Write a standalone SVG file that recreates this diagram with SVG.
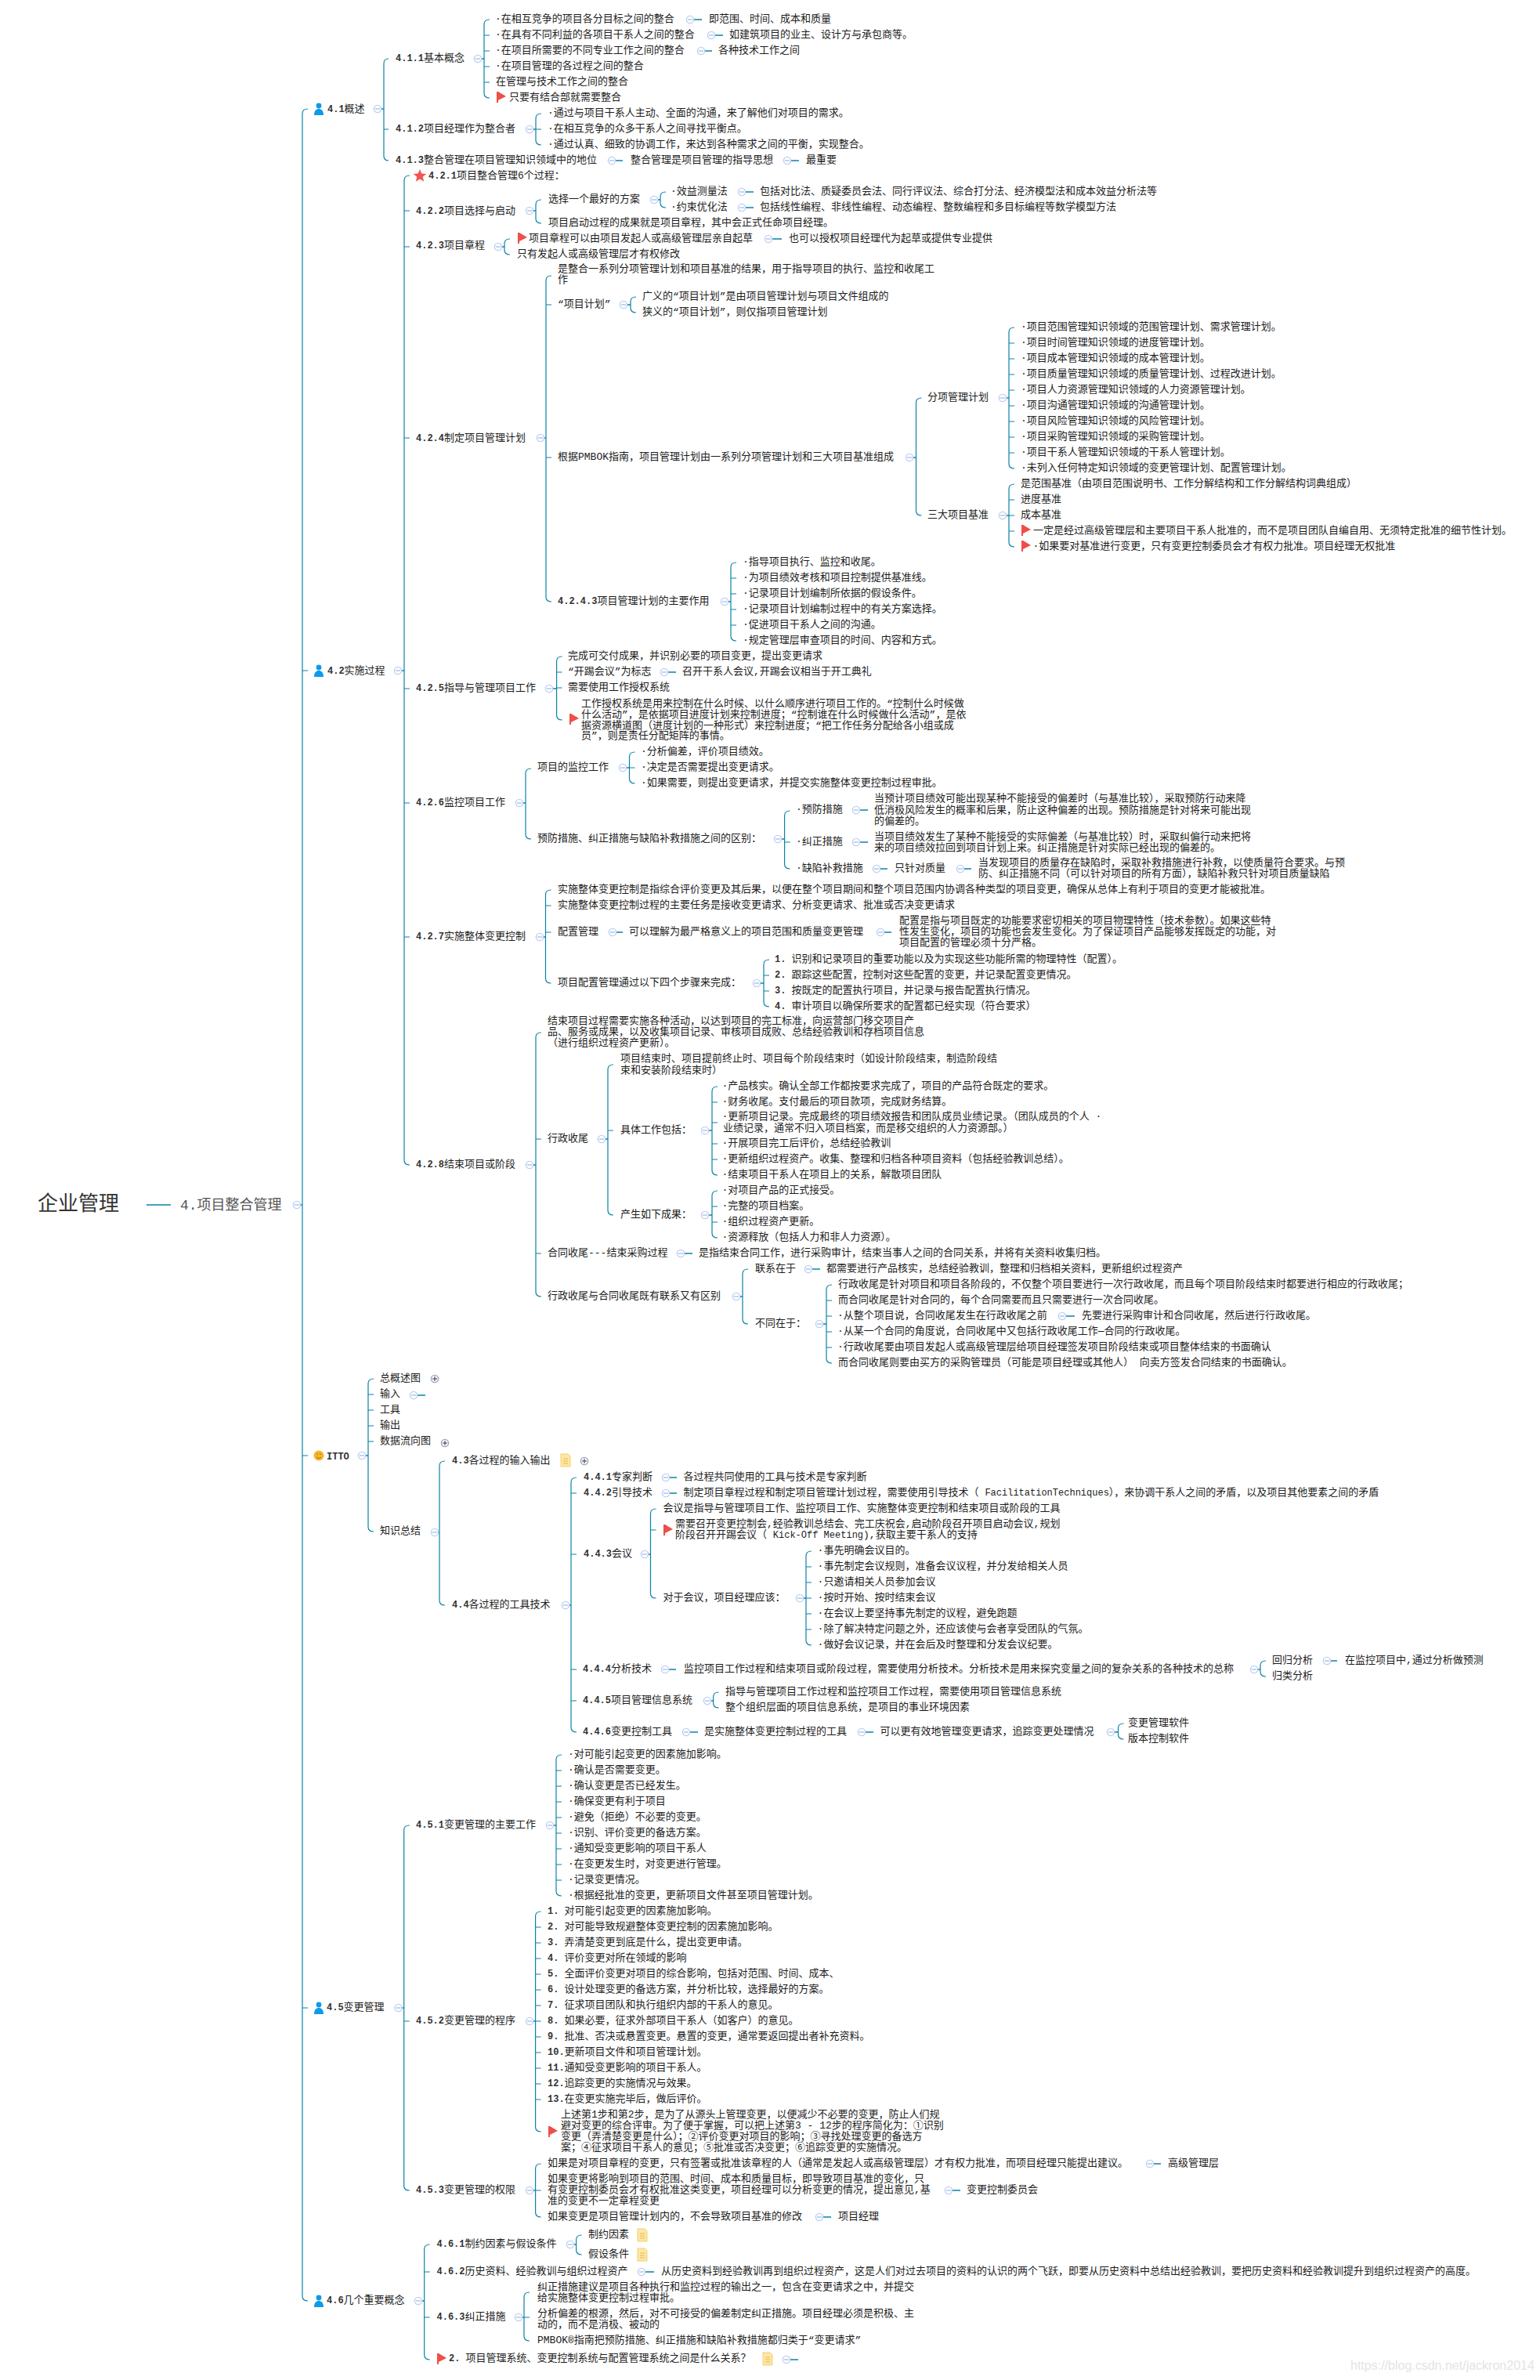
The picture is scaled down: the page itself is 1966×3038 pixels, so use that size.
<svg xmlns="http://www.w3.org/2000/svg" width="1966" height="3038" viewBox="0 0 1966 3038">
<style>
text{font-family:"Liberation Mono","Noto Sans CJK SC",monospace;font-size:13px;fill:#1c1c1c}
.n{font-size:12px;font-weight:bold;fill:#333}
.b{fill:none;stroke:#0b83a6;stroke-width:1.2}
.l{fill:none;stroke:#0b83a6;stroke-width:1.6}
</style>
<defs>
<g id="m"><circle r="4.6" fill="#fff" stroke="#bcd0f4" stroke-width="1.4"/><path d="M-3 0H3" stroke="#8fa8d8"/></g>
<g id="pl"><circle r="4.6" fill="#fff" stroke="#9aa3bd" stroke-width="1.4"/><path d="M-3 0H3M0-3V3" stroke="#334"/></g>
<g id="f"><path d="M0-7V7" stroke="#ee4f48" stroke-width="2"/><path d="M1-7 11-1 1 4Z" fill="#ee4f48"/></g>
<g id="p" fill="#0d9be8"><circle cy="-4" r="3.4"/><path d="M-6 8C-6 2-3 0 0 0S6 2 6 8Z"/></g>
<g id="d"><path d="M-6-8H3L6-5V8H-6Z" fill="#fbe7a8" stroke="#f4cf6c"/><path d="M-3-2H3M-3 1H3M-3 4H3" stroke="#eeb93e"/></g>
</defs>
<rect width="1966" height="3038" fill="#fff"/>
<g id="connectors">
<path class="b" d="M393 139q-7 0-7 6V2931q0 6 7 6M386 856h7M386 1858h7M386 2563h7"/>
<path class="b" d="M496 75q-6 0-6 6V199q0 6 6 6M490 165h6"/>
<path class="b" d="M625 25q-7 0-7 6V119q0 6 7 6M618 45h7M618 65h7M618 85h7M618 105h7"/>
<path class="b" d="M691 145q-7 0-7 6V179q0 6 7 6M684 165h7"/>
<path class="b" d="M523 224q-7 0-7 6V1481q0 6 7 6M516 269h7M516 315h7M516 559h7M516 879h7M516 1025h7M516 1196h7"/>
<path class="b" d="M691 255q-7 0-7 6V279q0 6 7 6"/>
<path class="b" d="M850 245q-7 0-7 6V259q0 6 7 6"/>
<path class="b" d="M651 305q-7 0-7 6V319q0 6 7 6"/>
<path class="b" d="M704 352q-7 0-7 6V762q0 6 7 6M697 389h7M697 584h7"/>
<path class="b" d="M812 379q-7 0-7 6V393q0 6 7 6"/>
<path class="b" d="M1176.500 508q-7 0-7 6V652q0 6 7 6"/>
<path class="b" d="M1295 418q-7 0-7 6V592q0 6 7 6M1288 438h7M1288 458h7M1288 478h7M1288 498h7M1288 518h7M1288 538h7M1288 558h7M1288 578h7"/>
<path class="b" d="M1295 618q-7 0-7 6V692q0 6 7 6M1288 638h7M1288 658h7M1288 678h7"/>
<path class="b" d="M940 718q-7 0-7 6V812q0 6 7 6M933 738h7M933 758h7M933 778h7M933 798h7"/>
<path class="b" d="M717.600 838q-7 0-7 6V913q0 6 7 6M710.600 858h7M710.600 878h7"/>
<path class="b" d="M678 981q-7 0-7 6V1065q0 6 7 6"/>
<path class="b" d="M810.500 960q-7 0-7 6V994q0 6 7 6M803.500 980h7"/>
<path class="b" d="M1008.600 1035q-7 0-7 6V1103q0 6 7 6M1001.600 1075h7"/>
<path class="b" d="M703.500 1136q-7 0-7 6V1249q0 6 7 6M696.500 1156h7M696.500 1190h7"/>
<path class="b" d="M982 1225q-7 0-7 6V1279q0 6 7 6M975 1245h7M975 1265h7"/>
<path class="b" d="M691 1318q-7 0-7 6V1649q0 6 7 6M684 1454h7M684 1600h7"/>
<path class="b" d="M783 1359q-7 0-7 6V1545q0 6 7 6M776 1443h7"/>
<path class="b" d="M916 1387q-7 0-7 6V1494q0 6 7 6M909 1407h7M909 1433h7M909 1460h7M909 1480h7"/>
<path class="b" d="M916 1520q-7 0-7 6V1574q0 6 7 6M909 1540h7M909 1560h7"/>
<path class="b" d="M955 1620q-7 0-7 6V1684q0 6 7 6"/>
<path class="b" d="M1062 1640q-7 0-7 6V1734q0 6 7 6M1055 1660h7M1055 1680h7M1055 1700h7M1055 1720h7"/>
<path class="b" d="M477 1760q-7 0-7 6V1949q0 6 7 6M470 1780h7M470 1800h7M470 1820h7M470 1840h7"/>
<path class="b" d="M568 1865q-7 0-7 6V2043q0 6 7 6"/>
<path class="b" d="M736 1886q-7 0-7 6V2205q0 6 7 6M729 1906h7M729 1984h7M729 2131h7M729 2171h7"/>
<path class="b" d="M837.500 1926q-7 0-7 6V2034q0 6 7 6M830.500 1953h7"/>
<path class="b" d="M1036 1980q-7 0-7 6V2094q0 6 7 6M1029 2000h7M1029 2020h7M1029 2040h7M1029 2060h7M1029 2080h7"/>
<path class="b" d="M1616 2120q-7 0-7 6V2134q0 6 7 6"/>
<path class="b" d="M917.600 2160q-7 0-7 6V2174q0 6 7 6"/>
<path class="b" d="M1434.500 2200q-7 0-7 6V2214q0 6 7 6"/>
<path class="b" d="M522.700 2330q-7 0-7 6V2790q0 6 7 6M515.700 2580h7"/>
<path class="b" d="M717 2240q-7 0-7 6V2414q0 6 7 6M710 2260h7M710 2280h7M710 2300h7M710 2320h7M710 2340h7M710 2360h7M710 2380h7M710 2400h7"/>
<path class="b" d="M690.600 2440q-7 0-7 6V2715q0 6 7 6M683.600 2460h7M683.600 2480h7M683.600 2500h7M683.600 2520h7M683.600 2540h7M683.600 2560h7M683.600 2580h7M683.600 2600h7M683.600 2620h7M683.600 2640h7M683.600 2660h7M683.600 2680h7"/>
<path class="b" d="M690.600 2762q-7 0-7 6V2824q0 6 7 6M683.600 2796h7"/>
<path class="b" d="M548.700 2865q-7 0-7 6V3006q0 6 7 6M541.700 2900h7M541.700 2958h7"/>
<path class="b" d="M742.600 2853q-7 0-7 6V2872q0 6 7 6"/>
<path class="b" d="M676 2926q-7 0-7 6V2982q0 6 7 6M669 2958h7"/>
<path class="l" d="M187 1538H218M379 1538H386M482 139H490M610 75H618M676 165H684M508 856H516M676 269H684M835 255H843M636 315H644M690 559H697M796 389H805M1161 584H1169M1280 508H1288M1280 658H1288M925 768H933M701 879H711M663 1025H671M795 980H803M993 1071H1002M689 1196H696M966 1255H975M676 1487H684M768 1454H776M900 1443H909M900 1551H909M940 1655H948M1046 1690H1055M462 1858H470M555 1956H561M722 2049H729M823 1984H830M1021 2040H1029M1601 2131H1609M903 2171H911M1418 2211H1428M508 2563H516M702 2330H710M676 2580H684M676 2796H684M534 2937H542M728 2865H736M662 2958H669"/>
<path class="l" d="M881 25H896M908 45H923M895 65H909M781 205H795M1005 205H1020M947 245H962M947 265H962M981 305H998M848 858H863M1093 1034H1108M1093 1075H1108M1119 1109H1133M1226 1109H1240M782 1190H795M1124 1190H1138M869 1600H884M1032 1620H1047M1356 1680H1372M528 1781H543M850 1886H864M850 1906H864M849 2131H863M876 2211H891M1100 2211H1115M1694 2120H1707M1468 2762H1482M1211 2796H1226M1046 2830H1061M819 2900H835M1004 3012H1019"/>
</g>
<g id="root"><text x="48" y="1545" style="font-size:26px;fill:#333">企业管理</text></g>
<g id="n4"><text x="230" y="1544" style="font-size:18px;fill:#555">4.项目整合管理</text><use href="#m" x="379" y="1538"/></g>

<g id="n41"><use href="#p" x="407" y="139"/><text x="418" y="143"><tspan class="n">4.1</tspan>概述</text><use href="#m" x="482" y="139"/></g>
<g id="n411"><text x="505" y="78"><tspan class="n">4.1.1</tspan>基本概念</text><use href="#m" x="610" y="75"/></g>
<g id="n411a"><text x="632" y="28">·在相互竞争的项目各分目标之间的整合</text><use href="#m" x="881" y="25"/><text x="905" y="28">即范围、时间、成本和质量</text></g>
<g id="n411b"><text x="632" y="48">·在具有不同利益的各项目干系人之间的整合</text><use href="#m" x="908" y="45"/><text x="931" y="48">如建筑项目的业主、设计方与承包商等。</text></g>
<g id="n411c"><text x="632" y="68">·在项目所需要的不同专业工作之间的整合</text><use href="#m" x="895" y="65"/><text x="917" y="68">各种技术工作之间</text></g>
<g id="n411d"><text x="632" y="88">·在项目管理的各过程之间的整合</text></g>
<g id="n411e"><text x="633" y="108">在管理与技术工作之间的整合</text></g>
<g id="n411f"><use href="#f" x="635" y="124"/><text x="650" y="128">只要有结合部就需要整合</text></g>
<g id="n412"><text x="505" y="168"><tspan class="n">4.1.2</tspan>项目经理作为整合者</text><use href="#m" x="676" y="165"/></g>
<g id="n412a"><text x="699" y="148">·通过与项目干系人主动、全面的沟通，来了解他们对项目的需求。</text></g>
<g id="n412b"><text x="699" y="168">·在相互竞争的众多干系人之间寻找平衡点。</text></g>
<g id="n412c"><text x="699" y="188">·通过认真、细致的协调工作，来达到各种需求之间的平衡，实现整合。</text></g>
<g id="n413"><text x="505" y="208"><tspan class="n">4.1.3</tspan>整合管理在项目管理知识领域中的地位</text><use href="#m" x="781" y="205"/><text x="805" y="208">整合管理是项目管理的指导思想</text><use href="#m" x="1005" y="205"/><text x="1029" y="208">最重要</text></g>

<g id="n42"><use href="#p" x="407" y="856"/><text x="418" y="860"><tspan class="n">4.2</tspan>实施过程</text><use href="#m" x="508" y="856"/></g>
<g id="n421"><path d="M536 216l2.300 5.600 6 .4-4.600 3.800 1.500 5.900-5.200-3.200-5.200 3.200 1.500-5.900-4.600-3.800 6-.4z" fill="#f2574e"/><text x="547" y="228"><tspan class="n">4.2.1</tspan>项目整合管理6个过程：</text></g>
<g id="n422"><text x="531" y="273"><tspan class="n">4.2.2</tspan>项目选择与启动</text><use href="#m" x="676" y="269"/></g>
<g id="n422a"><text x="700" y="258">选择一个最好的方案</text><use href="#m" x="835" y="255"/></g>
<g id="n422a1"><text x="856" y="248">·效益测量法</text><use href="#m" x="947" y="245"/><text x="970" y="248">包括对比法、质疑委员会法、同行评议法、综合打分法、经济模型法和成本效益分析法等</text></g>
<g id="n422a2"><text x="856" y="268">·约束优化法</text><use href="#m" x="947" y="265"/><text x="970" y="268">包括线性编程、非线性编程、动态编程、整数编程和多目标编程等数学模型方法</text></g>
<g id="n422b"><text x="700" y="288">项目启动过程的成果就是项目章程，其中会正式任命项目经理。</text></g>
<g id="n423"><text x="531" y="317"><tspan class="n">4.2.3</tspan>项目章程</text><use href="#m" x="636" y="315"/></g>
<g id="n423a"><use href="#f" x="662" y="304"/><text x="675" y="308">项目章程可以由项目发起人或高级管理层亲自起草</text><use href="#m" x="981" y="305"/><text x="1007" y="308">也可以授权项目经理代为起草或提供专业提供</text></g>
<g id="n423b"><text x="660" y="328">只有发起人或高级管理层才有权修改</text></g>
<g id="n424"><text x="531" y="563"><tspan class="n">4.2.4</tspan>制定项目管理计划</text><use href="#m" x="690" y="559"/></g>
<g id="n424a"><text x="712" y="347">是整合一系列分项管理计划和项目基准的结果，用于指导项目的执行、监控和收尾工</text><text x="712" y="361">作</text></g>
<g id="n424b"><text x="712" y="392">“项目计划”</text><use href="#m" x="796" y="389"/></g>
<g id="n424b1"><text x="820" y="382">广义的“项目计划”是由项目管理计划与项目文件组成的</text></g>
<g id="n424b2"><text x="820" y="402">狭义的“项目计划”，则仅指项目管理计划</text></g>
<g id="n424c"><text x="712" y="587">根据PMBOK指南，项目管理计划由一系列分项管理计划和三大项目基准组成</text><use href="#m" x="1161" y="584"/></g>
<g id="n424c1"><text x="1184" y="511">分项管理计划</text><use href="#m" x="1280" y="508"/></g>
<g id="n424c1a"><text x="1303" y="421">·项目范围管理知识领域的范围管理计划、需求管理计划。</text></g>
<g id="n424c1b"><text x="1303" y="441">·项目时间管理知识领域的进度管理计划。</text></g>
<g id="n424c1c"><text x="1303" y="461">·项目成本管理知识领域的成本管理计划。</text></g>
<g id="n424c1d"><text x="1303" y="481">·项目质量管理知识领域的质量管理计划、过程改进计划。</text></g>
<g id="n424c1e"><text x="1303" y="501">·项目人力资源管理知识领域的人力资源管理计划。</text></g>
<g id="n424c1f"><text x="1303" y="521">·项目沟通管理知识领域的沟通管理计划。</text></g>
<g id="n424c1g"><text x="1303" y="541">·项目风险管理知识领域的风险管理计划。</text></g>
<g id="n424c1h"><text x="1303" y="561">·项目采购管理知识领域的采购管理计划。</text></g>
<g id="n424c1i"><text x="1303" y="581">·项目干系人管理知识领域的干系人管理计划。</text></g>
<g id="n424c1j"><text x="1303" y="601">·未列入任何特定知识领域的变更管理计划、配置管理计划。</text></g>
<g id="n424c2"><text x="1184" y="661">三大项目基准</text><use href="#m" x="1280" y="658"/></g>
<g id="n424c2a"><text x="1303" y="621">是范围基准（由项目范围说明书、工作分解结构和工作分解结构词典组成）</text></g>
<g id="n424c2b"><text x="1303" y="641">进度基准</text></g>
<g id="n424c2c"><text x="1303" y="661">成本基准</text></g>
<g id="n424c2d"><use href="#f" x="1305" y="677"/><text x="1319" y="681">一定是经过高级管理层和主要项目干系人批准的，而不是项目团队自编自用、无须特定批准的细节性计划。</text></g>
<g id="n424c2e"><use href="#f" x="1305" y="697"/><text x="1318.500" y="701">·如果要对基准进行变更，只有变更控制委员会才有权力批准。项目经理无权批准</text></g>
<g id="n4243"><text x="712" y="771"><tspan class="n">4.2.4.3</tspan>项目管理计划的主要作用</text><use href="#m" x="925" y="768"/></g>
<g id="n4243a"><text x="948" y="721">·指导项目执行、监控和收尾。</text></g>
<g id="n4243b"><text x="948" y="741">·为项目绩效考核和项目控制提供基准线。</text></g>
<g id="n4243c"><text x="948" y="761">·记录项目计划编制所依据的假设条件。</text></g>
<g id="n4243d"><text x="948" y="781">·记录项目计划编制过程中的有关方案选择。</text></g>
<g id="n4243e"><text x="948" y="801">·促进项目干系人之间的沟通。</text></g>
<g id="n4243f"><text x="948" y="821">·规定管理层审查项目的时间、内容和方式。</text></g>
<g id="n425"><text x="531" y="882"><tspan class="n">4.2.5</tspan>指导与管理项目工作</text><use href="#m" x="701" y="879"/></g>
<g id="n425a"><text x="725" y="841">完成可交付成果，并识别必要的项目变更，提出变更请求</text></g>
<g id="n425b"><text x="725" y="861">“开踢会议”为标志</text><use href="#m" x="848" y="858"/><text x="871" y="861">召开干系人会议,开踢会议相当于开工典礼</text></g>
<g id="n425c"><text x="725" y="881">需要使用工作授权系统</text></g>
<g id="n425d"><use href="#f" x="728" y="918"/><text x="742" y="902">工作授权系统是用来控制在什么时候、以什么顺序进行项目工作的。“控制什么时候做</text><text x="742" y="916">什么活动”，是依据项目进度计划来控制进度；“控制谁在什么时候做什么活动”，是依</text><text x="742" y="930">据资源横道图（进度计划的一种形式）来控制进度；“把工作任务分配给各小组或成</text><text x="742" y="943">员”，则是责任分配矩阵的事情。</text></g>
<g id="n426"><text x="531" y="1028"><tspan class="n">4.2.6</tspan>监控项目工作</text><use href="#m" x="663" y="1025"/></g>
<g id="n426a"><text x="686" y="983">项目的监控工作</text><use href="#m" x="795" y="980"/></g>
<g id="n426a1"><text x="818" y="963">·分析偏差，评价项目绩效。</text></g>
<g id="n426a2"><text x="818" y="983">·决定是否需要提出变更请求。</text></g>
<g id="n426a3"><text x="818" y="1003">·如果需要，则提出变更请求，并提交实施整体变更控制过程审批。</text></g>
<g id="n426b"><text x="686" y="1074">预防措施、纠正措施与缺陷补救措施之间的区别：</text><use href="#m" x="993" y="1071"/></g>
<g id="n426b1"><text x="1016" y="1037">·预防措施</text><use href="#m" x="1093" y="1034"/><text x="1116" y="1023">当预计项目绩效可能出现某种不能接受的偏差时（与基准比较），采取预防行动来降</text><text x="1116" y="1038">低消极风险发生的概率和后果，防止这种偏差的出现。预防措施是针对将来可能出现</text><text x="1116" y="1052">的偏差的。</text></g>
<g id="n426b2"><text x="1016" y="1078">·纠正措施</text><use href="#m" x="1093" y="1075"/><text x="1116" y="1072">当项目绩效发生了某种不能接受的实际偏差（与基准比较）时，采取纠偏行动来把将</text><text x="1116" y="1086">来的项目绩效拉回到项目计划上来。纠正措施是针对实际已经出现的偏差的。</text></g>
<g id="n426b3"><text x="1016" y="1112">·缺陷补救措施</text><use href="#m" x="1119" y="1109"/><text x="1142" y="1112">只针对质量</text><use href="#m" x="1226" y="1109"/><text x="1249" y="1105">当发现项目的质量存在缺陷时，采取补救措施进行补救，以使质量符合要求。与预</text><text x="1249" y="1119">防、纠正措施不同（可以针对项目的所有方面），缺陷补救只针对项目质量缺陷</text></g>
<g id="n427"><text x="531" y="1199"><tspan class="n">4.2.7</tspan>实施整体变更控制</text><use href="#m" x="689" y="1196"/></g>
<g id="n427a"><text x="712" y="1139">实施整体变更控制是指综合评价变更及其后果，以便在整个项目期间和整个项目范围内协调各种类型的项目变更，确保从总体上有利于项目的变更才能被批准。</text></g>
<g id="n427b"><text x="712" y="1159">实施整体变更控制过程的主要任务是接收变更请求、分析变更请求、批准或否决变更请求</text></g>
<g id="n427c"><text x="712" y="1193">配置管理</text><use href="#m" x="782" y="1190"/><text x="803" y="1193">可以理解为最严格意义上的项目范围和质量变更管理</text><use href="#m" x="1124" y="1190"/><text x="1148" y="1179">配置是指与项目既定的功能要求密切相关的项目物理特性（技术参数）。如果这些特</text><text x="1148" y="1193">性发生变化，项目的功能也会发生变化。为了保证项目产品能够发挥既定的功能，对</text><text x="1148" y="1207">项目配置的管理必须十分严格。</text></g>
<g id="n427d"><text x="712" y="1258">项目配置管理通过以下四个步骤来完成：</text><use href="#m" x="966" y="1255"/></g>
<g id="n427d1"><text x="989" y="1228"><tspan class="n">1. </tspan>识别和记录项目的重要功能以及为实现这些功能所需的物理特性（配置）。</text></g>
<g id="n427d2"><text x="989" y="1248"><tspan class="n">2. </tspan>跟踪这些配置，控制对这些配置的变更，并记录配置变更情况。</text></g>
<g id="n427d3"><text x="989" y="1268"><tspan class="n">3. </tspan>按既定的配置执行项目，并记录与报告配置执行情况。</text></g>
<g id="n427d4"><text x="989" y="1288"><tspan class="n">4. </tspan>审计项目以确保所要求的配置都已经实现（符合要求）</text></g>
<g id="n428"><text x="531" y="1490"><tspan class="n">4.2.8</tspan>结束项目或阶段</text><use href="#m" x="676" y="1487"/></g>
<g id="n428a"><text x="699" y="1307">结束项目过程需要实施各种活动，以达到项目的完工标准，向运营部门移交项目产</text><text x="699" y="1321">品、服务或成果，以及收集项目记录、审核项目成败、总结经验教训和存档项目信息</text><text x="699" y="1335">（进行组织过程资产更新）。</text></g>
<g id="n428b"><text x="699" y="1457">行政收尾</text><use href="#m" x="768" y="1454"/></g>
<g id="n428b1"><text x="792" y="1355">项目结束时、项目提前终止时、项目每个阶段结束时（如设计阶段结束，制造阶段结</text><text x="792" y="1370">束和安装阶段结束时）</text></g>
<g id="n428b2"><text x="792" y="1446">具体工作包括：</text><use href="#m" x="900" y="1443"/></g>
<g id="n428b2a"><text x="921.500" y="1390">·产品核实。确认全部工作都按要求完成了，项目的产品符合既定的要求。</text></g>
<g id="n428b2b"><text x="921.500" y="1410">·财务收尾。支付最后的项目款项，完成财务结算。</text></g>
<g id="n428b2c"><text x="921.500" y="1429">·更新项目记录。完成最终的项目绩效报告和团队成员业绩记录。（团队成员的个人 ·</text><text x="923" y="1444">业绩记录，通常不归入项目档案，而是移交组织的人力资源部。）</text></g>
<g id="n428b2d"><text x="921.500" y="1463">·开展项目完工后评价，总结经验教训</text></g>
<g id="n428b2e"><text x="921.500" y="1483">·更新组织过程资产。收集、整理和归档各种项目资料（包括经验教训总结）。</text></g>
<g id="n428b2f"><text x="921.500" y="1503">·结束项目干系人在项目上的关系，解散项目团队</text></g>
<g id="n428b3"><text x="792" y="1554">产生如下成果：</text><use href="#m" x="900" y="1551"/></g>
<g id="n428b3a"><text x="921.500" y="1523">·对项目产品的正式接受。</text></g>
<g id="n428b3b"><text x="921.500" y="1543">·完整的项目档案。</text></g>
<g id="n428b3c"><text x="921.500" y="1563">·组织过程资产更新。</text></g>
<g id="n428b3d"><text x="921.500" y="1583">·资源释放（包括人力和非人力资源）。</text></g>
<g id="n428c"><text x="699" y="1603">合同收尾---结束采购过程</text><use href="#m" x="869" y="1600"/><text x="892" y="1603">是指结束合同工作，进行采购审计，结束当事人之间的合同关系，并将有关资料收集归档。</text></g>
<g id="n428d"><text x="699" y="1658">行政收尾与合同收尾既有联系又有区别</text><use href="#m" x="940" y="1655"/></g>
<g id="n428d1"><text x="964" y="1623">联系在于</text><use href="#m" x="1032" y="1620"/><text x="1055" y="1623">都需要进行产品核实，总结经验教训，整理和归档相关资料，更新组织过程资产</text></g>
<g id="n428d2"><text x="964" y="1693">不同在于：</text><use href="#m" x="1046" y="1690"/></g>
<g id="n428d2a"><text x="1070" y="1643">行政收尾是针对项目和项目各阶段的，不仅整个项目要进行一次行政收尾，而且每个项目阶段结束时都要进行相应的行政收尾；</text></g>
<g id="n428d2b"><text x="1070" y="1663">而合同收尾是针对合同的，每个合同需要而且只需要进行一次合同收尾。</text></g>
<g id="n428d2c"><text x="1069" y="1683">·从整个项目说，合同收尾发生在行政收尾之前</text><use href="#m" x="1356" y="1680"/><text x="1381" y="1683">先要进行采购审计和合同收尾，然后进行行政收尾。</text></g>
<g id="n428d2d"><text x="1069" y="1703">·从某一个合同的角度说，合同收尾中又包括行政收尾工作—合同的行政收尾。</text></g>
<g id="n428d2e"><text x="1069" y="1723">·行政收尾要由项目发起人或高级管理层给项目经理签发项目阶段结束或项目整体结束的书面确认</text></g>
<g id="n428d2f"><text x="1070" y="1743">而合同收尾则要由买方的采购管理员（可能是项目经理或其他人） 向卖方签发合同结束的书面确认。</text></g>

<g id="itto"><circle cx="407" cy="1858" r="6.500" fill="#f6b52f"/><path d="M404 1860q3 3 6 0" fill="none" stroke="#a86a00"/><circle cx="405" cy="1856" r=".8" fill="#a86a00"/><circle cx="409" cy="1856" r=".8" fill="#a86a00"/><text x="417" y="1863" class="n">ITTO</text><use href="#m" x="462" y="1858"/></g>
<g id="i1"><text x="485" y="1763">总概述图</text><use href="#pl" x="555" y="1760"/></g>
<g id="i2"><text x="485" y="1783">输入</text><use href="#m" x="528" y="1781"/></g>
<g id="i3"><text x="485" y="1803">工具</text></g>
<g id="i4"><text x="485" y="1823">输出</text></g>
<g id="i5"><text x="485" y="1843">数据流向图</text><use href="#pl" x="568" y="1842"/></g>
<g id="i6"><text x="485" y="1958">知识总结</text><use href="#m" x="555" y="1956"/></g>
<g id="n43"><text x="577" y="1868"><tspan class="n">4.3</tspan>各过程的输入输出</text><use href="#d" x="722" y="1864"/><use href="#pl" x="746" y="1865"/></g>
<g id="n44"><text x="577" y="2052"><tspan class="n">4.4</tspan>各过程的工具技术</text><use href="#m" x="722" y="2049"/></g>
<g id="n441"><text x="745" y="1889"><tspan class="n">4.4.1</tspan>专家判断</text><use href="#m" x="850" y="1886"/><text x="872.600" y="1889">各过程共同使用的工具与技术是专家判断</text></g>
<g id="n442"><text x="745" y="1909"><tspan class="n">4.4.2</tspan>引导技术</text><use href="#m" x="850" y="1906"/><text x="872.600" y="1909">制定项目章程过程和制定项目管理计划过程，需要使用引导技术（ <tspan style="font-size:12px">FacilitationTechniques</tspan>），来协调干系人之间的矛盾，以及项目其他要素之间的矛盾</text></g>
<g id="n443"><text x="745" y="1987"><tspan class="n">4.4.3</tspan>会议</text><use href="#m" x="823" y="1984"/></g>
<g id="n443a"><text x="846.600" y="1929">会议是指导与管理项目工作、监控项目工作、实施整体变更控制和结束项目或阶段的工具</text></g>
<g id="n443b"><use href="#f" x="848" y="1953"/><text x="862" y="1949">需要召开变更控制会,经验教训总结会、完工庆祝会,启动阶段召开项目启动会议,规划</text><text x="862" y="1963">阶段召开开踢会议（ <tspan style="font-size:12px">Kick-Off Meeting</tspan>),获取主要干系人的支持</text></g>
<g id="n443c"><text x="846.600" y="2043">对于会议，项目经理应该：</text><use href="#m" x="1021" y="2040"/></g>
<g id="n443c1"><text x="1043.600" y="1983">·事先明确会议目的。</text></g>
<g id="n443c2"><text x="1043.600" y="2003">·事先制定会议规则，准备会议议程，并分发给相关人员</text></g>
<g id="n443c3"><text x="1043.600" y="2023">·只邀请相关人员参加会议</text></g>
<g id="n443c4"><text x="1043.600" y="2043">·按时开始、按时结束会议</text></g>
<g id="n443c5"><text x="1043.600" y="2063">·在会议上要坚持事先制定的议程，避免跑题</text></g>
<g id="n443c6"><text x="1043.600" y="2083">·除了解决特定问题之外，还应该使与会者享受团队的气氛。</text></g>
<g id="n443c7"><text x="1043.600" y="2103">·做好会议记录，并在会后及时整理和分发会议纪要。</text></g>
<g id="n444"><text x="744" y="2134"><tspan class="n">4.4.4</tspan>分析技术</text><use href="#m" x="849" y="2131"/><text x="873" y="2134">监控项目工作过程和结束项目或阶段过程，需要使用分析技术。分析技术是用来探究变量之间的复杂关系的各种技术的总称</text><use href="#m" x="1601" y="2131"/></g>
<g id="n444a"><text x="1624" y="2123">回归分析</text><use href="#m" x="1694" y="2120"/><text x="1717" y="2123">在监控项目中,通过分析做预测</text></g>
<g id="n444b"><text x="1624" y="2143">归类分析</text></g>
<g id="n445"><text x="744" y="2174"><tspan class="n">4.4.5</tspan>项目管理信息系统</text><use href="#m" x="903" y="2171"/></g>
<g id="n445a"><text x="926" y="2163">指导与管理项目工作过程和监控项目工作过程，需要使用项目管理信息系统</text></g>
<g id="n445b"><text x="926" y="2183">整个组织层面的项目信息系统，是项目的事业环境因素</text></g>
<g id="n446"><text x="744" y="2214"><tspan class="n">4.4.6</tspan>变更控制工具</text><use href="#m" x="876" y="2211"/><text x="899" y="2214">是实施整体变更控制过程的工具</text><use href="#m" x="1100" y="2211"/><text x="1123.600" y="2214">可以更有效地管理变更请求，追踪变更处理情况</text><use href="#m" x="1418" y="2211"/></g>
<g id="n446a"><text x="1440" y="2203">变更管理软件</text></g>
<g id="n446b"><text x="1440" y="2223">版本控制软件</text></g>

<g id="n45"><use href="#p" x="407" y="2563"/><text x="417" y="2566"><tspan class="n">4.5</tspan>变更管理</text><use href="#m" x="508.600" y="2563"/></g>
<g id="n451"><text x="531" y="2333"><tspan class="n">4.5.1</tspan>变更管理的主要工作</text><use href="#m" x="702" y="2330"/></g>
<g id="n451a"><text x="725" y="2243">·对可能引起变更的因素施加影响。</text></g>
<g id="n451b"><text x="725" y="2263">·确认是否需要变更。</text></g>
<g id="n451c"><text x="725" y="2283">·确认变更是否已经发生。</text></g>
<g id="n451d"><text x="725" y="2303">·确保变更有利于项目</text></g>
<g id="n451e"><text x="725" y="2323">·避免（拒绝）不必要的变更。</text></g>
<g id="n451f"><text x="725" y="2343">·识别、评价变更的备选方案。</text></g>
<g id="n451g"><text x="725" y="2363">·通知受变更影响的项目干系人</text></g>
<g id="n451h"><text x="725" y="2383">·在变更发生时，对变更进行管理。</text></g>
<g id="n451i"><text x="725" y="2403">·记录变更情况。</text></g>
<g id="n451j"><text x="725" y="2423">·根据经批准的变更，更新项目文件甚至项目管理计划。</text></g>
<g id="n452"><text x="531" y="2583"><tspan class="n">4.5.2</tspan>变更管理的程序</text><use href="#m" x="676" y="2580"/></g>
<g id="n452-1"><text x="699" y="2443"><tspan class="n">1.  </tspan>对可能引起变更的因素施加影响。</text></g>
<g id="n452-2"><text x="699" y="2463"><tspan class="n">2.  </tspan>对可能导致规避整体变更控制的因素施加影响。</text></g>
<g id="n452-3"><text x="699" y="2483"><tspan class="n">3.  </tspan>弄清楚变更到底是什么，提出变更申请。</text></g>
<g id="n452-4"><text x="699" y="2503"><tspan class="n">4.  </tspan>评价变更对所在领域的影响</text></g>
<g id="n452-5"><text x="699" y="2523"><tspan class="n">5.  </tspan>全面评价变更对项目的综合影响，包括对范围、时间、成本、</text></g>
<g id="n452-6"><text x="699" y="2543"><tspan class="n">6.  </tspan>设计处理变更的备选方案，并分析比较，选择最好的方案。</text></g>
<g id="n452-7"><text x="699" y="2563"><tspan class="n">7.  </tspan>征求项目团队和执行组织内部的干系人的意见。</text></g>
<g id="n452-8"><text x="699" y="2583"><tspan class="n">8.  </tspan>如果必要，征求外部项目干系人（如客户）的意见。</text></g>
<g id="n452-9"><text x="699" y="2603"><tspan class="n">9.  </tspan>批准、否决或悬置变更。悬置的变更，通常要返回提出者补充资料。</text></g>
<g id="n452-10"><text x="699" y="2623"><tspan class="n">10.</tspan>更新项目文件和项目管理计划。</text></g>
<g id="n452-11"><text x="699" y="2643"><tspan class="n">11.</tspan>通知受变更影响的项目干系人。</text></g>
<g id="n452-12"><text x="699" y="2663"><tspan class="n">12.</tspan>追踪变更的实施情况与效果。</text></g>
<g id="n452-13"><text x="699" y="2683"><tspan class="n">13.</tspan>在变更实施完毕后，做后评价。</text></g>
<g id="n452-f"><use href="#f" x="701" y="2721"/><text x="716" y="2703">上述第1步和第2步，是为了从源头上管理变更，以便减少不必要的变更，防止人们规</text><text x="716" y="2717">避对变更的综合评审。为了便于掌握，可以把上述第3 - 12步的程序简化为：①识别</text><text x="716" y="2731">变更（弄清楚变更是什么）；②评价变更对项目的影响；③寻找处理变更的备选方</text><text x="716" y="2745">案；④征求项目干系人的意见；⑤批准或否决变更；⑥追踪变更的实施情况。</text></g>
<g id="n453"><text x="531" y="2799"><tspan class="n">4.5.3</tspan>变更管理的权限</text><use href="#m" x="676" y="2796"/></g>
<g id="n453a"><text x="699" y="2765">如果是对项目章程的变更，只有签署或批准该章程的人（通常是发起人或高级管理层）才有权力批准，而项目经理只能提出建议。</text><use href="#m" x="1468" y="2762"/><text x="1491" y="2765">高级管理层</text></g>
<g id="n453b"><text x="699" y="2785">如果变更将影响到项目的范围、时间、成本和质量目标，即导致项目基准的变化，只</text><text x="699" y="2799">有变更控制委员会才有权批准这类变更，项目经理可以分析变更的情况，提出意见,基</text><text x="699" y="2813">准的变更不一定章程变更</text><use href="#m" x="1211" y="2796"/><text x="1234" y="2799">变更控制委员会</text></g>
<g id="n453c"><text x="699" y="2833">如果变更是项目管理计划内的，不会导致项目基准的修改</text><use href="#m" x="1046" y="2830"/><text x="1070" y="2833">项目经理</text></g>

<g id="n46"><use href="#p" x="407" y="2937"/><text x="417" y="2940"><tspan class="n">4.6</tspan>几个重要概念</text><use href="#m" x="534" y="2937"/></g>
<g id="n461"><text x="557.500" y="2868"><tspan class="n">4.6.1</tspan>制约因素与假设条件</text><use href="#m" x="728" y="2865"/></g>
<g id="n461a"><text x="751" y="2856">制约因素</text><use href="#d" x="820" y="2853"/></g>
<g id="n461b"><text x="751" y="2881">假设条件</text><use href="#d" x="820" y="2878"/></g>
<g id="n462"><text x="557.500" y="2903"><tspan class="n">4.6.2</tspan>历史资料、经验教训与组织过程资产</text><use href="#m" x="819" y="2900"/><text x="844" y="2903">从历史资料到经验教训再到组织过程资产，这是人们对过去项目的资料的认识的两个飞跃，即要从历史资料中总结出经验教训，要把历史资料和经验教训提升到组织过程资产的高度。</text></g>
<g id="n463"><text x="557.500" y="2961"><tspan class="n">4.6.3</tspan>纠正措施</text><use href="#m" x="662" y="2958"/></g>
<g id="n463a"><text x="686" y="2923">纠正措施建议是项目各种执行和监控过程的输出之一，包含在变更请求之中，并提交</text><text x="686" y="2937">给实施整体变更控制过程审批。</text></g>
<g id="n463b"><text x="686" y="2957">分析偏差的根源，然后，对不可接受的偏差制定纠正措施。项目经理必须是积极、主</text><text x="686" y="2971">动的，而不是消极、被动的</text></g>
<g id="n463c"><text x="686" y="2991">PMBOK®指南把预防措施、纠正措施和缺陷补救措施都归类于“变更请求”</text></g>
<g id="n464"><use href="#f" x="559" y="3011"/><text x="573" y="3014"><tspan class="n">2. </tspan>项目管理系统、变更控制系统与配置管理系统之间是什么关系？</text><use href="#d" x="980" y="3011"/><use href="#m" x="1004" y="3012"/></g>
<text x="1724" y="3025" style="font-family:'Liberation Sans',sans-serif;font-size:16px;fill:#e4e4e4">https://blog.csdn.net/jackron2014</text>
</svg>
